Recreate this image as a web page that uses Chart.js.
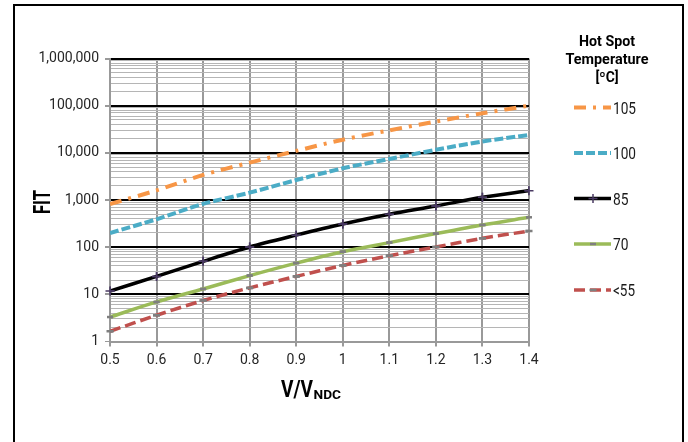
<!DOCTYPE html>
<html>
<head>
<meta charset="utf-8">
<script src="https://cdn.jsdelivr.net/npm/chart.js@4"></script>
<style>
  body { margin: 0; background: #fff; overflow: hidden; }
  #frame { position: absolute; left: 13px; top: 4px; width: 667px; height: 520px; border: 2px solid #000; }
  #chart { position: absolute; left: 0; top: 0; }
</style>
</head>
<body>
<div id="frame"></div>
<canvas id="chart" width="688" height="442"></canvas>
<script>
// V/VNDC ratio on x
const ratios = [0.5, 0.6, 0.7, 0.8, 0.9, 1.0, 1.1, 1.2, 1.3, 1.4];

// FIT values per hot spot temperature
const fit105 = [820, 1600, 3400, 6200, 11000, 19000, 30000, 46000, 69000, 100000];
const fit100 = [200, 390, 830, 1430, 2650, 4700, 7400, 11600, 17400, 24000];
const fit85 = [11.7, 24, 50, 101, 180, 310, 500, 746, 1140, 1570];
const fit70 = [3.3, 6.9, 13, 25, 46, 80, 125, 194, 296, 430];
const fit55 = [1.65, 3.6, 7.4, 13.7, 24, 41, 66, 101, 154, 220];

const seriesNames = ["105", "100", "85", "70", "<55"];
const yTickValues = [1, 10, 100, 1000, 10000, 100000, 1000000];

function toPoints(vals) {
    return vals.map((v, i) => ({ x: ratios[i], y: v }));
}

function isDecade(v) {
    return yTickValues.includes(v);
}

// draw text squeezed to a given width (source font is condensed)
function fitText(ctx, text, x, y, font, width, align) {
    ctx.save();
    ctx.font = font;
    let w = ctx.measureText(text).width;
    let sx = width / w;
    ctx.translate(x, y);
    ctx.scale(sx, 1);
    ctx.textAlign = align || "left";
    ctx.textBaseline = "alphabetic";
    ctx.fillText(text, 0, 0);
    ctx.restore();
}

function drawMarker(ctx, ds, x, y) {
    let r = ds.pointRadius;
    ctx.save();
    ctx.strokeStyle = ds.pointBorderColor;
    ctx.lineWidth = ds.pointBorderWidth;
    ctx.beginPath();
    ctx.moveTo(x - r, y); ctx.lineTo(x + r, y);
    if (ds.pointStyle === "cross") {
        ctx.moveTo(x, y - r); ctx.lineTo(x, y + r);
    }
    ctx.stroke();
    ctx.restore();
}

const overlay = {
    id: "overlay",
    afterDraw(chart) {
        let ctx = chart.ctx;
        ctx.save();
        ctx.fillStyle = "#000";

        // x axis title V/V(NDC)
        fitText(ctx, "V/V", 281, 397, "bold 24px Roboto", 32);
        fitText(ctx, "NDC", 313.5, 398.5, "bold 13px Roboto", 27.5);

        // y axis title
        ctx.save();
        ctx.translate(50, 202);
        ctx.rotate(-Math.PI / 2);
        fitText(ctx, "FIT", 0, 0, "bold 24px Roboto", 24, "center");
        ctx.restore();

        // legend title
        fitText(ctx, "Hot Spot", 607, 45.5, "bold 14px Roboto", 56, "center");
        fitText(ctx, "Temperature", 607, 64, "bold 14px Roboto", 83, "center");
        fitText(ctx, "[ºC]", 607, 82, "bold 14px Roboto", 23, "center");

        // legend entries
        let rows = [107.5, 153, 198.5, 244, 290];
        let widths = [23, 23, 15.5, 15.5, 22];
        chart.data.datasets.forEach((ds, i) => {
            let y = rows[i];
            ctx.save();
            ctx.strokeStyle = ds.borderColor;
            ctx.lineWidth = ds.borderWidth;
            ctx.setLineDash(ds.borderDash || []);
            ctx.beginPath();
            ctx.moveTo(574, y);
            ctx.lineTo(611, y);
            ctx.stroke();
            ctx.restore();
            if (ds.pointRadius > 0) drawMarker(ctx, ds, 593, y);
            ctx.fillStyle = "#1a1a1a";
            fitText(ctx, seriesNames[i], 613, y + 6, "16px Roboto", widths[i]);
        });

        // markers on top of the lines
        chart.data.datasets.forEach((ds, i) => {
            if (!(ds.pointRadius > 0)) return;
            chart.getDatasetMeta(i).data.forEach(pt => drawMarker(ctx, ds, pt.x, pt.y));
        });
        ctx.restore();
    }
};

function createChart() {
    let ctx = document.getElementById("chart").getContext("2d");
    new Chart(ctx, {
        type: "line",
        data: {
            datasets: [
                {
                    label: seriesNames[0],
                    data: toPoints(fit105),
                    borderColor: "#f79646",
                    borderWidth: 4,
                    borderDash: [12, 7, 3, 7],
                    pointRadius: 0,
                    tension: 0.3
                },
                {
                    label: seriesNames[1],
                    data: toPoints(fit100),
                    borderColor: "#4bacc6",
                    borderWidth: 4,
                    borderDash: [9, 3],
                    pointRadius: 0,
                    tension: 0.3
                },
                {
                    label: seriesNames[2],
                    data: toPoints(fit85),
                    borderColor: "#000000",
                    borderWidth: 3.5,
                    pointStyle: "cross",
                    pointRadius: 4.5,
                    pointBorderWidth: 1.5,
                    pointBorderColor: "#4a3a63",
                    tension: 0.3
                },
                {
                    label: seriesNames[3],
                    data: toPoints(fit70),
                    borderColor: "#9bbb59",
                    borderWidth: 3.5,
                    pointStyle: "line",
                    pointRadius: 3,
                    pointBorderWidth: 2.5,
                    pointBorderColor: "#7f7f7f",
                    tension: 0.3
                },
                {
                    label: seriesNames[4],
                    data: toPoints(fit55),
                    borderColor: "#c0504d",
                    borderWidth: 3.5,
                    borderDash: [11, 5],
                    pointStyle: "line",
                    pointRadius: 3.5,
                    pointBorderWidth: 2.5,
                    pointBorderColor: "#7f7f7f",
                    tension: 0.3
                }
            ]
        },
        options: {
            responsive: false,
            animation: false,
            devicePixelRatio: 1,
            layout: { padding: { left: 0, top: 58.5, right: 159, bottom: 70.5 } },
            plugins: {
                legend: { display: false },
                tooltip: { enabled: false }
            },
            scales: {
                x: {
                    type: "linear",
                    min: 0.5,
                    max: 1.4,
                    afterFit: s => { s.height = 30; },
                    ticks: {
                        stepSize: 0.1,
                        font: { family: "Roboto", size: 14 },
                        color: "#262626",
                        padding: 6,
                        maxRotation: 0,
                        callback: v => String(Math.round(v * 10) / 10)
                    },
                    grid: { color: "#999999", lineWidth: 2, tickLength: 5 },
                    border: { color: "#999999", width: 2 }
                },
                y: {
                    type: "logarithmic",
                    min: 1,
                    max: 1000000,
                    afterFit: s => { s.width = 110; },
                    afterBuildTicks: s => {
                        let t = [];
                        for (let d = 1; d < 1000000; d *= 10) {
                            for (let m = 1; m < 10; m++) t.push({ value: d * m });
                        }
                        t.push({ value: 1000000 });
                        s.ticks = t;
                    },
                    ticks: {
                        autoSkip: false,
                        font: { family: "Roboto", size: 14 },
                        color: "#262626",
                        padding: 6,
                        callback: v => isDecade(v) ? v.toLocaleString("en-US") : ""
                    },
                    grid: {
                        color: c => (c.tick && isDecade(c.tick.value) && c.tick.value > 1) ? "#000000" : "#b5b5b5",
                        lineWidth: c => (c.tick && isDecade(c.tick.value) && c.tick.value > 1) ? 2 : 1,
                        tickColor: c => (c.tick && isDecade(c.tick.value)) ? "#999999" : "rgba(0,0,0,0)",
                        tickLength: 5
                    },
                    border: { color: "#999999", width: 2 }
                }
            }
        },
        plugins: [overlay]
    });
}

window.onload = createChart;
</script>
</body>
</html>
